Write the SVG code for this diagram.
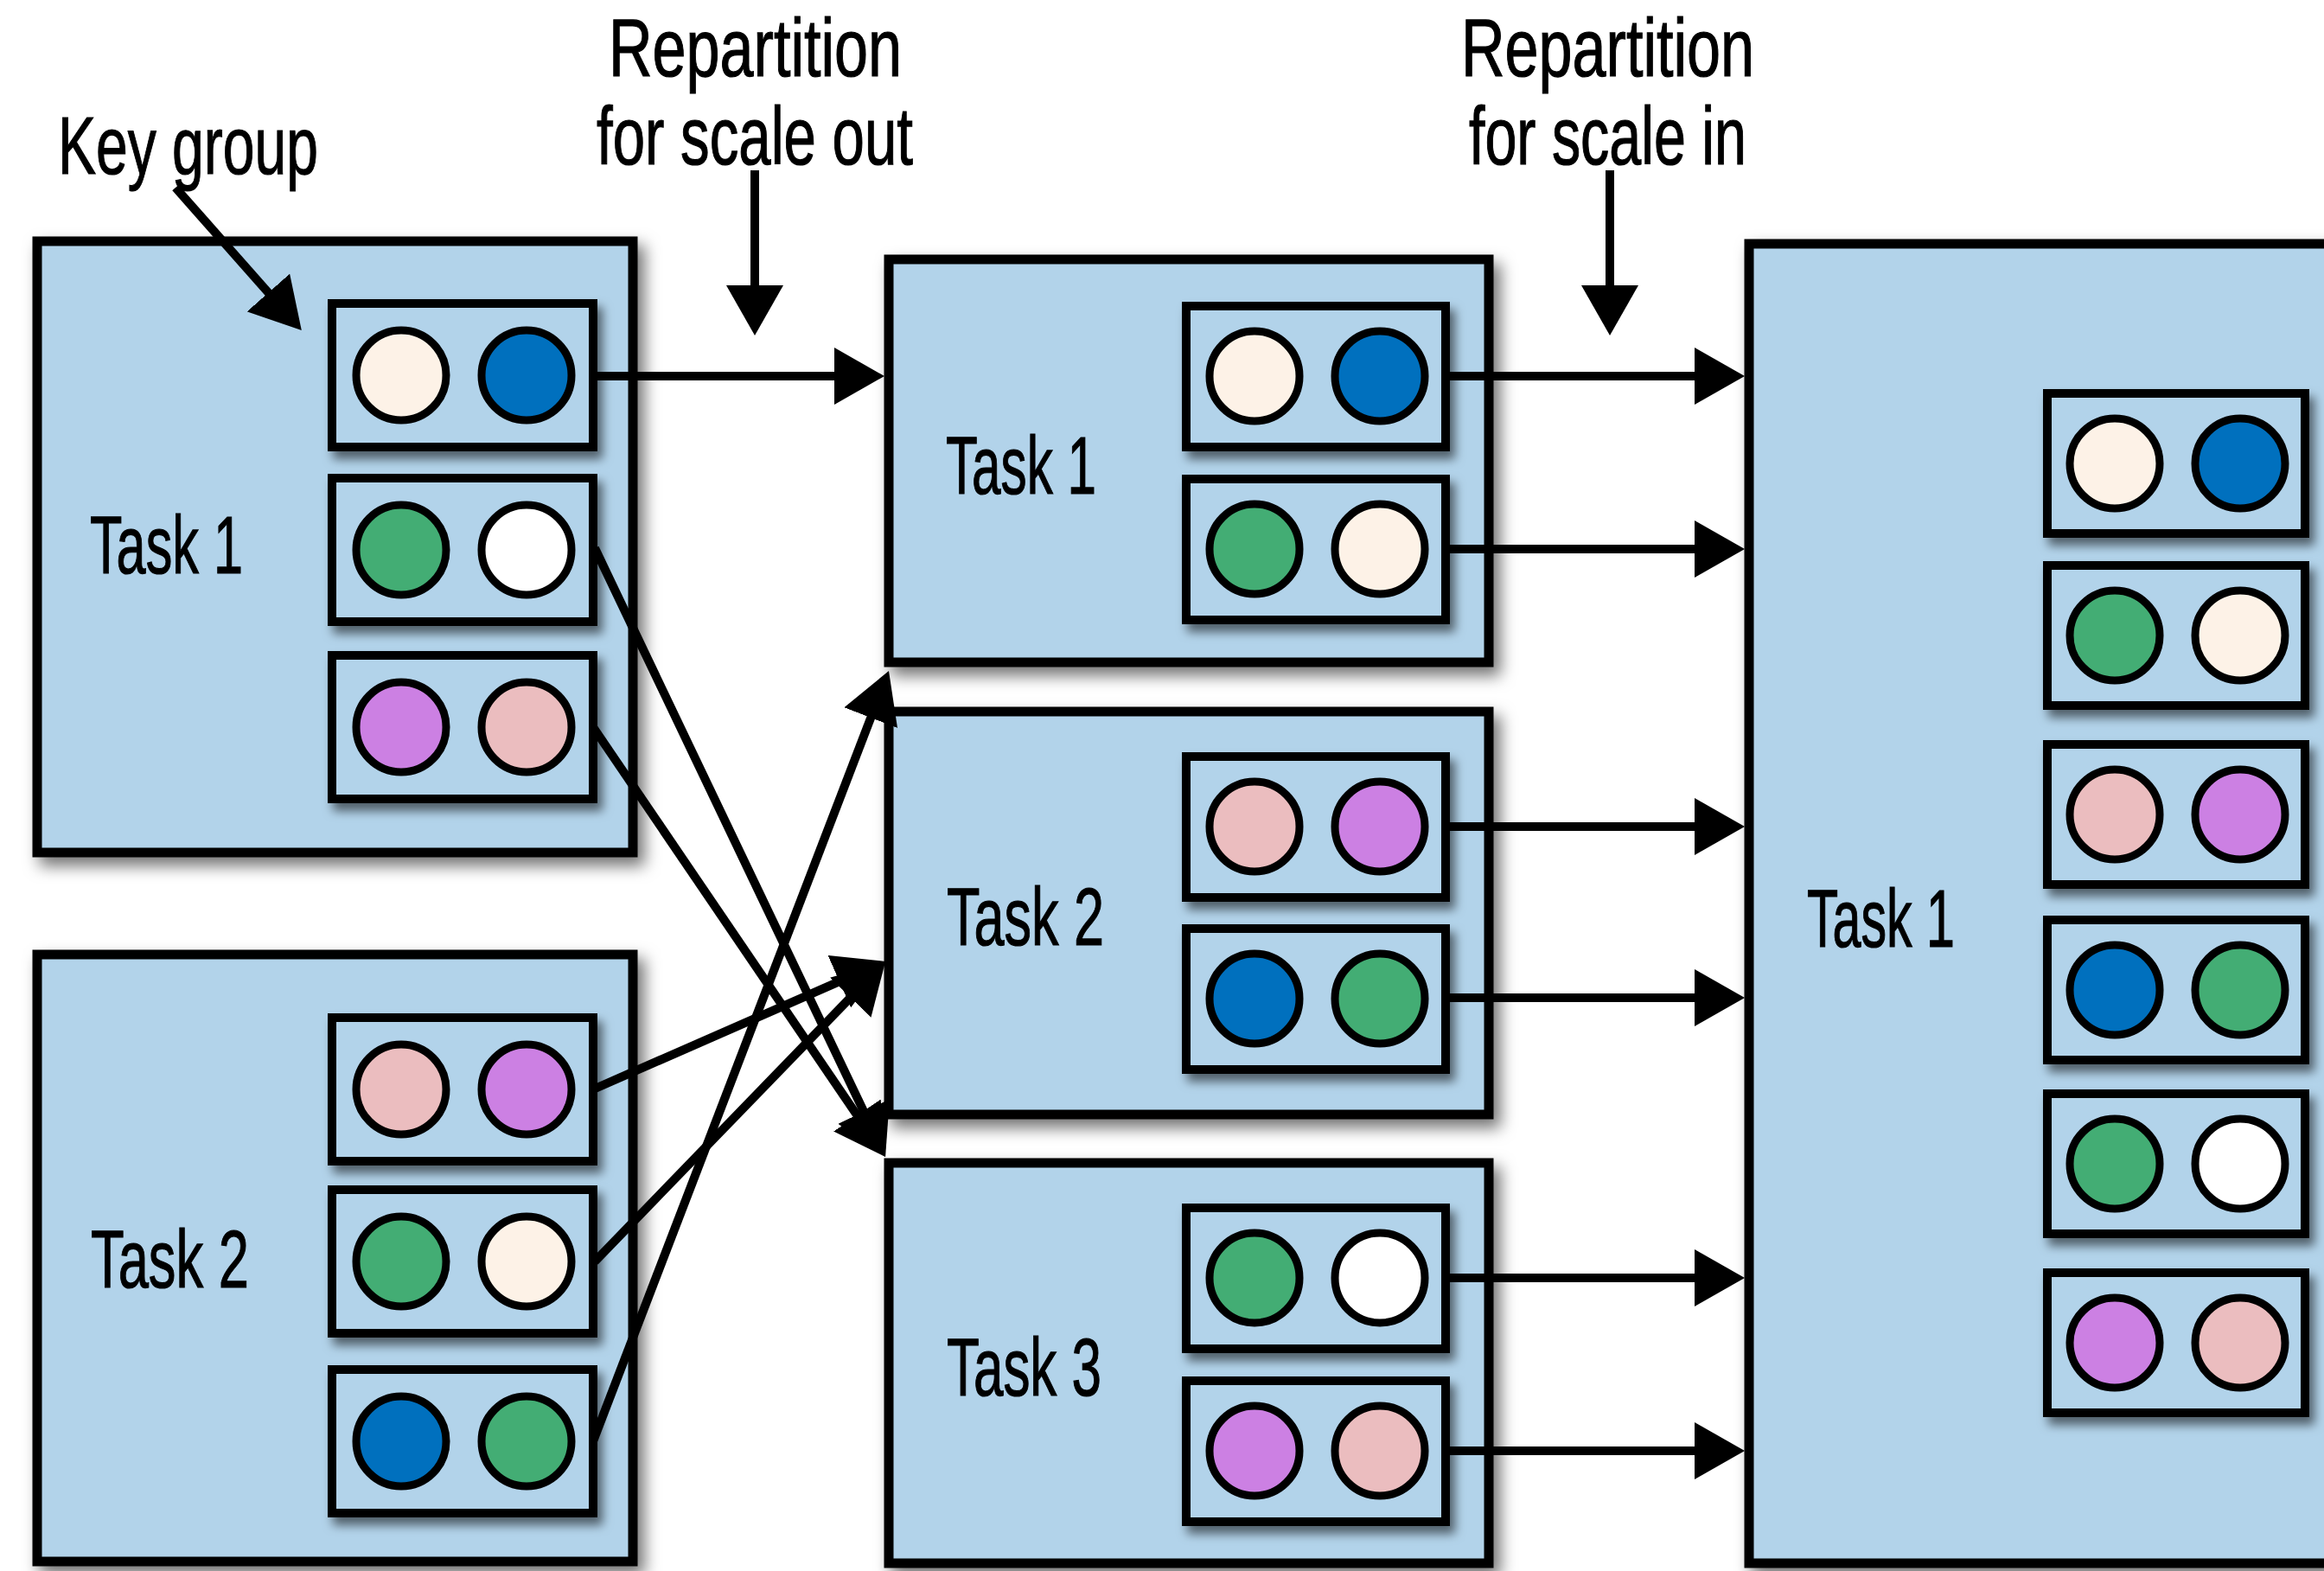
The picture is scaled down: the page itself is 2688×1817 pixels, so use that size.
<svg xmlns="http://www.w3.org/2000/svg" width="2688" height="1817" viewBox="0 0 2688 1817">
  <style>
    .task { fill: #b2d3ea; stroke: #000; stroke-width: 11; stroke-linejoin: miter; filter: url(#boxShadow); }
    .kg { fill: #b2d3ea; stroke: #000; stroke-width: 10; filter: url(#kgShadow); }
    .c { stroke: #000; stroke-width: 9; }
    .cream { fill: #fdf2e7; }
    .blue { fill: #0070be; }
    .green { fill: #43ad74; }
    .white { fill: #ffffff; }
    .pink { fill: #ebbdbf; }
    .purple { fill: #cc80e3; }
    .lbl { font-family: "Liberation Sans Narrow", "Liberation Sans", Arial, sans-serif; font-size: 95px; fill: #000; stroke: #000; stroke-width: 1.2; }
    .conn line { stroke: #000; stroke-width: 10; fill: none; marker-end: url(#head); }
  </style>
  <defs>
    <filter id="boxShadow" x="-10%" y="-10%" width="125%" height="125%">
      <feDropShadow dx="8" dy="10" stdDeviation="9" flood-color="#000" flood-opacity="0.55"/>
    </filter>
    <filter id="kgShadow" x="-20%" y="-20%" width="150%" height="150%">
      <feDropShadow dx="6" dy="9" stdDeviation="6" flood-color="#000" flood-opacity="0.55"/>
    </filter>
    <marker id="head" viewBox="-10 -33 58 66" markerUnits="userSpaceOnUse" markerWidth="58" markerHeight="66" refX="0" refY="0" orient="auto">
      <path d="M-10,-33 L48,0 L-10,33 Z" fill="#000"/>
    </marker>
  </defs>

  <rect width="2688" height="1817" fill="#fff"/>

  <!-- source tasks -->
  <g id="src-task1">
    <rect class="task" x="43" y="279" width="689" height="707"/>
    <text class="lbl" x="104" y="663" textLength="177" lengthAdjust="spacingAndGlyphs">Task 1</text>
    <g id="src-t1-kg1" transform="translate(379,346)">
      <rect class="kg" x="5" y="5" width="302" height="166"/>
      <circle class="c cream" cx="85" cy="88" r="52"/>
      <circle class="c blue" cx="230" cy="88" r="52"/>
    </g>
    <g id="src-t1-kg2" transform="translate(379,548)">
      <rect class="kg" x="5" y="5" width="302" height="166"/>
      <circle class="c green" cx="85" cy="88" r="52"/>
      <circle class="c white" cx="230" cy="88" r="52"/>
    </g>
    <g id="src-t1-kg3" transform="translate(379,753)">
      <rect class="kg" x="5" y="5" width="302" height="166"/>
      <circle class="c purple" cx="85" cy="88" r="52"/>
      <circle class="c pink" cx="230" cy="88" r="52"/>
    </g>
  </g>

  <g id="src-task2">
    <rect class="task" x="43" y="1104" width="689" height="702"/>
    <text class="lbl" x="105" y="1489" textLength="183" lengthAdjust="spacingAndGlyphs">Task 2</text>
    <g id="src-t2-kg1" transform="translate(379,1172)">
      <rect class="kg" x="5" y="5" width="302" height="166"/>
      <circle class="c pink" cx="85" cy="88" r="52"/>
      <circle class="c purple" cx="230" cy="88" r="52"/>
    </g>
    <g id="src-t2-kg2" transform="translate(379,1371)">
      <rect class="kg" x="5" y="5" width="302" height="166"/>
      <circle class="c green" cx="85" cy="88" r="52"/>
      <circle class="c cream" cx="230" cy="88" r="52"/>
    </g>
    <g id="src-t2-kg3" transform="translate(379,1579)">
      <rect class="kg" x="5" y="5" width="302" height="166"/>
      <circle class="c blue" cx="85" cy="88" r="52"/>
      <circle class="c green" cx="230" cy="88" r="52"/>
    </g>
  </g>

  <!-- scaled-out tasks -->
  <g id="out-task1">
    <rect class="task" x="1028" y="300" width="694" height="466"/>
    <text class="lbl" x="1094" y="571" textLength="174" lengthAdjust="spacingAndGlyphs">Task 1</text>
    <g id="out-t1-kg1" transform="translate(1367,349)">
      <rect class="kg" x="5" y="5" width="300" height="163"/>
      <circle class="c cream" cx="84" cy="86" r="52"/>
      <circle class="c blue" cx="229" cy="86" r="52"/>
    </g>
    <g id="out-t1-kg2" transform="translate(1367,549)">
      <rect class="kg" x="5" y="5" width="300" height="163"/>
      <circle class="c green" cx="84" cy="86" r="52"/>
      <circle class="c cream" cx="229" cy="86" r="52"/>
    </g>
  </g>

  <g id="out-task2">
    <rect class="task" x="1028" y="823" width="694" height="466"/>
    <text class="lbl" x="1095" y="1093" textLength="182" lengthAdjust="spacingAndGlyphs">Task 2</text>
    <g id="out-t2-kg1" transform="translate(1367,870)">
      <rect class="kg" x="5" y="5" width="300" height="163"/>
      <circle class="c pink" cx="84" cy="86" r="52"/>
      <circle class="c purple" cx="229" cy="86" r="52"/>
    </g>
    <g id="out-t2-kg2" transform="translate(1367,1069)">
      <rect class="kg" x="5" y="5" width="300" height="163"/>
      <circle class="c blue" cx="84" cy="86" r="52"/>
      <circle class="c green" cx="229" cy="86" r="52"/>
    </g>
  </g>

  <g id="out-task3">
    <rect class="task" x="1028" y="1345" width="694" height="463"/>
    <text class="lbl" x="1095" y="1614" textLength="179" lengthAdjust="spacingAndGlyphs">Task 3</text>
    <g id="out-t3-kg1" transform="translate(1367,1392)">
      <rect class="kg" x="5" y="5" width="300" height="163"/>
      <circle class="c green" cx="84" cy="86" r="52"/>
      <circle class="c white" cx="229" cy="86" r="52"/>
    </g>
    <g id="out-t3-kg2" transform="translate(1367,1592)">
      <rect class="kg" x="5" y="5" width="300" height="163"/>
      <circle class="c purple" cx="84" cy="86" r="52"/>
      <circle class="c pink" cx="229" cy="86" r="52"/>
    </g>
  </g>

  <!-- scaled-in task -->
  <g id="in-task1">
    <rect class="task" x="2023" y="282" width="800" height="1526"/>
    <text class="lbl" x="2090" y="1095" textLength="171" lengthAdjust="spacingAndGlyphs">Task 1</text>
    <g id="in-kg1" transform="translate(2363,450)">
      <rect class="kg" x="5" y="5" width="298" height="162"/>
      <circle class="c cream" cx="83" cy="86" r="52"/>
      <circle class="c blue" cx="228" cy="86" r="52"/>
    </g>
    <g id="in-kg2" transform="translate(2363,649)">
      <rect class="kg" x="5" y="5" width="298" height="162"/>
      <circle class="c green" cx="83" cy="86" r="52"/>
      <circle class="c cream" cx="228" cy="86" r="52"/>
    </g>
    <g id="in-kg3" transform="translate(2363,856)">
      <rect class="kg" x="5" y="5" width="298" height="162"/>
      <circle class="c pink" cx="83" cy="86" r="52"/>
      <circle class="c purple" cx="228" cy="86" r="52"/>
    </g>
    <g id="in-kg4" transform="translate(2363,1059)">
      <rect class="kg" x="5" y="5" width="298" height="162"/>
      <circle class="c blue" cx="83" cy="86" r="52"/>
      <circle class="c green" cx="228" cy="86" r="52"/>
    </g>
    <g id="in-kg5" transform="translate(2363,1260)">
      <rect class="kg" x="5" y="5" width="298" height="162"/>
      <circle class="c green" cx="83" cy="86" r="52"/>
      <circle class="c white" cx="228" cy="86" r="52"/>
    </g>
    <g id="in-kg6" transform="translate(2363,1467)">
      <rect class="kg" x="5" y="5" width="298" height="162"/>
      <circle class="c purple" cx="83" cy="86" r="52"/>
      <circle class="c pink" cx="228" cy="86" r="52"/>
    </g>
  </g>

  <!-- annotations -->
  <g id="annotations">
    <text class="lbl" x="67" y="201" textLength="301" lengthAdjust="spacingAndGlyphs">Key group</text>
    <text class="lbl" x="704" y="88" textLength="339" lengthAdjust="spacingAndGlyphs">Repartition</text>
    <text class="lbl" x="690" y="190" textLength="366" lengthAdjust="spacingAndGlyphs">for scale out</text>
    <text class="lbl" x="1690" y="88" textLength="339" lengthAdjust="spacingAndGlyphs">Repartition</text>
    <text class="lbl" x="1699" y="190" textLength="321" lengthAdjust="spacingAndGlyphs">for scale in</text>
  </g>

  <!-- connectors -->
  <g id="connectors" class="conn">
    <line x1="203" y1="217" x2="317" y2="346"/>
    <line x1="873" y1="197" x2="873" y2="340"/>
    <line x1="1862" y1="197" x2="1862" y2="340"/>

    <line x1="688" y1="435" x2="975" y2="435"/>
    <line x1="688" y1="634" x2="1003.4" y2="1294.6"/>
    <line x1="686" y1="841" x2="997" y2="1298.3"/>
    <line x1="686" y1="1260" x2="980" y2="1131.2"/>
    <line x1="688" y1="1459" x2="990.7" y2="1146.6"/>
    <line x1="686" y1="1667" x2="1010.8" y2="820.8"/>

    <line x1="1668" y1="435" x2="1970" y2="435"/>
    <line x1="1668" y1="635" x2="1970" y2="635"/>
    <line x1="1668" y1="956" x2="1970" y2="956"/>
    <line x1="1668" y1="1154" x2="1970" y2="1154"/>
    <line x1="1668" y1="1478" x2="1970" y2="1478"/>
    <line x1="1668" y1="1678" x2="1970" y2="1678"/>
  </g>
</svg>
